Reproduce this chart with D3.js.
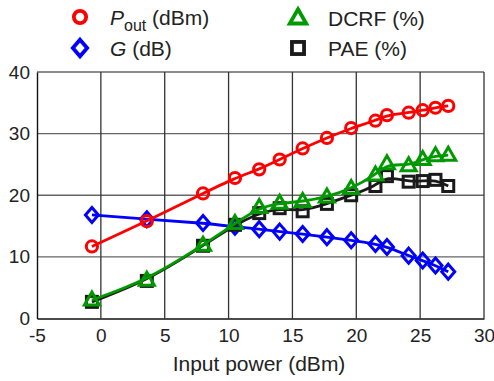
<!DOCTYPE html>
<html>
<head>
<meta charset="utf-8">
<script src="https://cdn.jsdelivr.net/npm/d3@7"></script>
<style>
  body { margin: 0; background: #fff; }
  svg { font-family: "Liberation Sans", Arial, sans-serif; }
</style>
</head>
<body>
<svg id="chart" width="494" height="381"></svg>
<script>
// input power (dBm), shared by all series
const inputPower = [-0.7, 3.6, 8.0, 10.5, 12.4, 14.0, 15.8, 17.7, 19.6, 21.5, 22.4, 24.1, 25.2, 26.2, 27.2];
const pout = [11.7, 15.8, 20.3, 22.8, 24.2, 25.8, 27.6, 29.3, 30.9, 32.1, 33.0, 33.4, 33.8, 34.2, 34.5];
const gain = [16.8, 16.1, 15.5, 14.9, 14.5, 14.1, 13.7, 13.2, 12.7, 12.1, 11.6, 10.2, 9.4, 8.6, 7.6];
const dcrf = [3.0, 6.2, 11.9, 15.4, 18.0, 18.7, 19.0, 19.7, 21.1, 23.3, 25.1, 24.8, 25.8, 26.4, 26.5];
const pae = [2.7, 6.1, 11.8, 15.2, 17.1, 17.9, 17.4, 18.6, 20.0, 21.5, 23.1, 22.2, 22.3, 22.5, 21.5];
const xTicks = [-5, 0, 5, 10, 15, 20, 25, 30];
const yTicks = [0, 10, 20, 30, 40];

const svg = d3.select('#chart');
const plotLeft = 37, plotRight = 484, plotTop = 72, plotBottom = 318.5;

const x = d3.scaleLinear().domain([-5, 30]).range([plotLeft, plotRight]);
const y = d3.scaleLinear().domain([0, 40]).range([plotBottom, plotTop]);

// grid
svg.append('g').selectAll('line').data(yTicks.slice(1)).enter().append('line')
    .attr('x1', plotLeft).attr('x2', plotRight).attr('y1', d => y(d)).attr('y2', d => y(d))
    .attr('stroke', '#666').attr('stroke-width', 1.3);
svg.append('g').selectAll('line').data(xTicks.slice(1)).enter().append('line')
    .attr('y1', plotTop).attr('y2', plotBottom).attr('x1', d => x(d)).attr('x2', d => x(d))
    .attr('stroke', '#333').attr('stroke-width', 1.3);

// axes
const xAxis = svg.append('g').attr('transform', `translate(0,${plotBottom})`)
    .call(d3.axisBottom(x).tickValues(xTicks).tickSize(0).tickPadding(10).tickFormat(d3.format('d')));
const yAxis = svg.append('g').attr('transform', `translate(${plotLeft},0)`)
    .call(d3.axisLeft(y).tickValues(yTicks).tickSize(0).tickPadding(7));
[xAxis, yAxis].forEach(a => {
    a.select('.domain').attr('stroke', '#111').attr('stroke-width', 1.4);
    a.selectAll('text').attr('font-size', 19).attr('fill', '#222')
        .attr('font-family', '"Liberation Sans", Arial, sans-serif');
});
xAxis.selectAll('text').text(d => d < 0 ? '-' + Math.abs(d) : d);

svg.append('text').attr('x', 259).attr('y', 371).attr('text-anchor', 'middle')
    .attr('font-size', 21).attr('fill', '#222').text('Input power (dBm)');

const series = [
    { key: 'gain', values: gain, color: '#0000ff', shape: 'diamond' },
    { key: 'pout', values: pout, color: '#ff0000', shape: 'circle' },
    { key: 'pae', values: pae, color: '#1a1a1a', shape: 'square' },
    { key: 'dcrf', values: dcrf, color: '#009900', shape: 'triangle' }
];

function marker(g, shape, color, k, sw) {
    if (shape === 'circle') {
        g.append('circle').attr('r', 5.6 * k);
    } else if (shape === 'diamond') {
        g.append('path').attr('d', `M0,${-7.5 * k}L${6.5 * k},0L0,${7.5 * k}L${-6.5 * k},0Z`);
    } else if (shape === 'square') {
        g.append('rect').attr('x', -5.5 * k).attr('y', -5.5 * k).attr('width', 11 * k).attr('height', 11 * k);
    } else {
        g.append('path').attr('d', `M0,${-8 * k}L${7.5 * k},${5 * k}L${-7.5 * k},${5 * k}Z`);
    }
    g.selectAll('*').attr('fill', 'none').attr('stroke', color).attr('stroke-width', sw);
}

const line = d3.line().x(d => x(d[0])).y(d => y(d[1])).curve(d3.curveBasis);

series.forEach(s => {
    const pts = inputPower.map((p, i) => [p, s.values[i]]);
    svg.append('path').datum(pts).attr('d', line)
        .attr('fill', 'none').attr('stroke', s.color).attr('stroke-width', 2.8);
    svg.append('g').selectAll('g').data(pts).enter().append('g')
        .attr('transform', d => `translate(${x(d[0])},${y(d[1])})`)
        .each(function () { marker(d3.select(this), s.shape, s.color, 1, 3); });
});

// legend
const legend = [
    { shape: 'circle', color: '#ff0000', lx: 80, ly: 17, label: 'pout' },
    { shape: 'diamond', color: '#0000ff', lx: 80, ly: 48, label: 'G' },
    { shape: 'triangle', color: '#009900', lx: 298, ly: 18, label: 'DCRF (%)' },
    { shape: 'square', color: '#1a1a1a', lx: 298, ly: 48, label: 'PAE (%)' }
];
legend.forEach(l => {
    const g = svg.append('g').attr('transform', `translate(${l.lx},${l.ly})`);
    marker(g, l.shape, l.color, 1.1, 3.8);
    const t = svg.append('text').attr('x', l.lx + 30).attr('y', l.ly + 8)
        .attr('font-size', 21).attr('fill', '#222');
    if (l.label === 'pout') {
        t.append('tspan').attr('font-style', 'italic').text('P');
        t.append('tspan').attr('font-size', 16).attr('dy', 6).text('out');
        t.append('tspan').attr('dy', -6).text(' (dBm)');
    } else if (l.label === 'G') {
        t.append('tspan').attr('font-style', 'italic').text('G');
        t.append('tspan').text(' (dB)');
    } else {
        t.text(l.label);
    }
});
</script>
</body>
</html>
